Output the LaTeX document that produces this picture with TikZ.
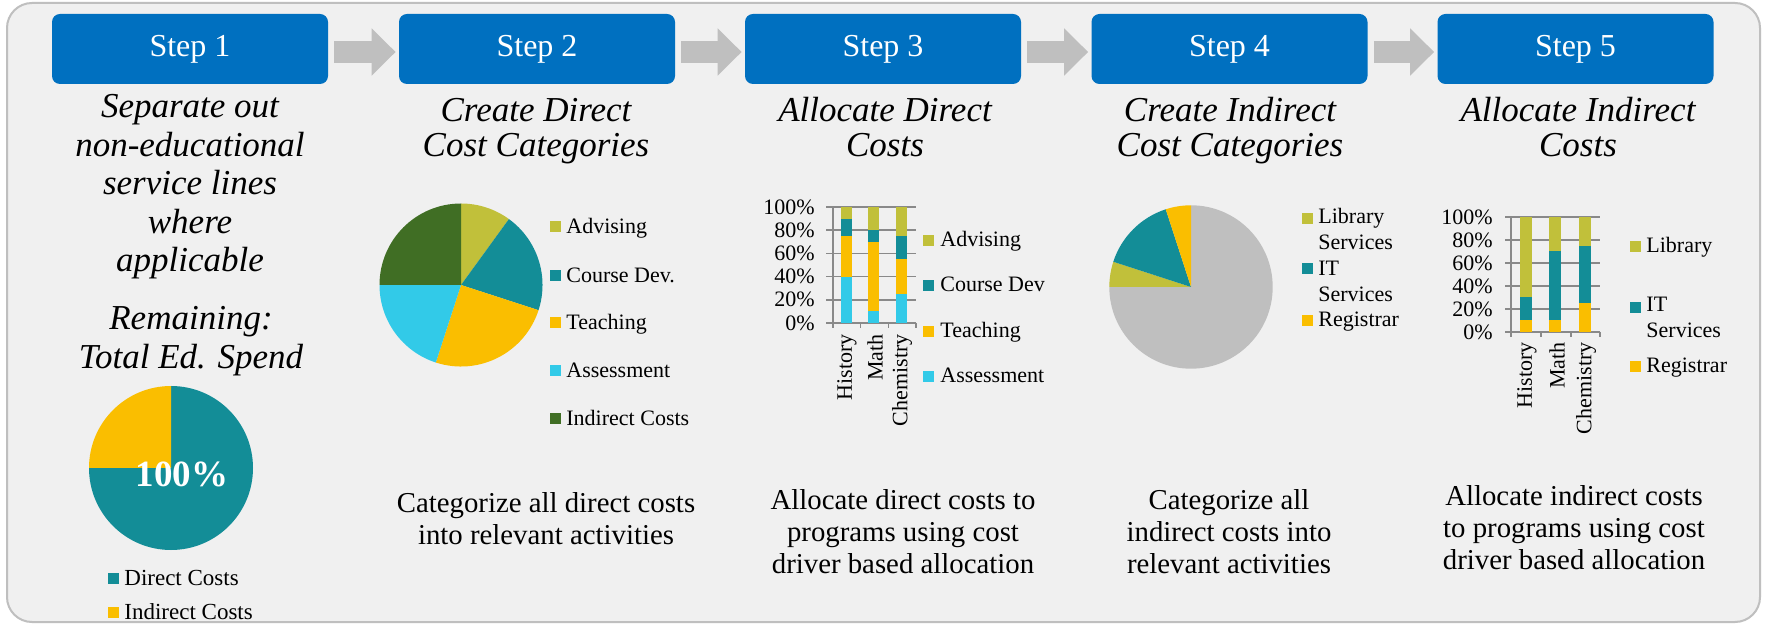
\documentclass[tikz,border=0pt]{standalone}
\usepackage{fontspec}
\setmainfont{Liberation Serif}
\usetikzlibrary{arrows.meta}
\definecolor{stepblue}{RGB}{0,112,192}
\definecolor{arrowgray}{RGB}{191,191,191}
\definecolor{panelfill}{RGB}{240,240,240}
\definecolor{panelline}{RGB}{191,191,191}
\definecolor{advcol}{RGB}{193,192,58}
\definecolor{devcol}{RGB}{19,141,151}
\definecolor{goldcol}{RGB}{250,190,0}
\definecolor{asscol}{RGB}{50,202,232}
\definecolor{indcol}{RGB}{64,110,36}
\definecolor{piegray}{RGB}{191,191,191}
\definecolor{gridgray}{RGB}{137,137,137}
\tikzset{
  stepbox/.style={fill=stepblue, text=white, rounded corners=4pt, minimum width=138pt,
    minimum height=35pt, inner sep=0pt, font=\fontsize{16}{19}\selectfont},
  flow/.style={draw=arrowgray, line width=11pt, -{Triangle[length=12pt,width=23pt]},
    shorten <=3pt, shorten >=1.5pt},
  heading/.style={align=center, inner sep=0pt, font=\fontsize{17.5}{17.5}\selectfont\itshape},
  note/.style={align=center, inner sep=0pt, font=\fontsize{14.4}{16}\selectfont},
  chart/.style={inner sep=0pt, align=left, font=\fontsize{11}{13}\selectfont},
  gridln/.style={draw=gridgray, line width=0.75pt},
}
\begin{document}
\begin{tikzpicture}[x=0.5pt,y=-0.5pt]
  \fill[white] (0,0) rectangle (1765,624);
  \useasboundingbox (0,0) rectangle (1765,624);
  \draw[panelline, fill=panelfill, line width=1pt, rounded corners=12.5pt] (7,3) rectangle (1760,622);

  % steps
  \foreach \i/\x in {1/190, 2/537, 3/883, 4/1229.5, 5/1575.5}
    \node[stepbox] (step\i) at (\x,49) {Step \i};
  \draw[flow] ([yshift=-1.5pt]step1.east) -- ([yshift=-1.5pt]step2.west);
  \draw[flow] ([yshift=-1.5pt]step2.east) -- ([yshift=-1.5pt]step3.west);
  \draw[flow] ([yshift=-1.5pt]step3.east) -- ([yshift=-1.5pt]step4.west);
  \draw[flow] ([yshift=-1.5pt]step4.east) -- ([yshift=-1.5pt]step5.west);

  \node[heading, font=\fontsize{17.5}{19.25}\selectfont\itshape] (h1) at (190,187)
    {Separate out\\non-educational\\service lines\\where\\applicable};
  \node[heading, font=\fontsize{17.5}{19.25}\selectfont\itshape] (r1) at (191,341)
    {Remaining:\\Total Ed. Spend};
  \node[heading] (h2) at (536,131) {Create Direct\\Cost Categories};
  \node[heading] (h3) at (885,127) {Allocate Direct\\Costs};
  \node[heading] (h4) at (1230,131) {Create Indirect\\Cost Categories};
  \node[heading] (h5) at (1578,127) {Allocate Indirect\\Costs};

  \node[note] (n2) at (546,519) {Categorize all direct costs\\into relevant activities};
  \node[note] (n3) at (903,531.5) {Allocate direct costs to\\programs using cost\\driver based allocation};
  \node[note] (n4) at (1229,531.5) {Categorize all\\indirect costs into\\relevant activities};
  \node[note] (n5) at (1574,527.5) {Allocate indirect costs\\to programs using cost\\driver based allocation};

  % step 1 pie
  \foreach \a/\b/\c in {-90/180/devcol, 180/270/goldcol}
    \fill[\c] (171,468) -- ++(\a:82) arc[start angle=\a, end angle=\b, radius=82] -- cycle;
  \node[text=white, inner sep=0pt, font=\fontsize{18.5}{20}\selectfont\bfseries] (p1) at (182,474) {100\%};
  \foreach \y/\c/\t [count=\i] in {578/devcol/Direct Costs, 612/goldcol/Indirect Costs}{
    \fill[\c] (108,\y-5.5) rectangle ++(11,11);
    \node[chart, anchor=base west, font=\fontsize{11.5}{13}\selectfont] (l1-\i) at (124,\y+7) {\t};
  }

  % step 2 pie
  \foreach \a/\b/\c in {-90/-54/advcol, -54/18/devcol, 18/108/goldcol, 108/180/asscol, 180/270/indcol}
    \fill[\c] (461,285) -- ++(\a:81.5) arc[start angle=\a, end angle=\b, radius=81.5] -- cycle;
  \foreach \y/\c/\t [count=\i] in {227/advcol/Advising, 276/devcol/Course Dev., 323/goldcol/Teaching,
      371/asscol/Assessment, 419/indcol/Indirect Costs}{
    \fill[\c] (550,\y-5.5) rectangle ++(11,11);
    \node[chart, anchor=base west] (l2-\i) at (566,\y+6.5) {\t};
  }

  % step 3 bars
  \foreach \p in {0,20,...,100}{
    \draw[gridln] (826,323-1.16*\p) -- (916,323-1.16*\p);
    \node[chart, anchor=east] (y3-\p) at (815,323-1.16*\p) {\p\%};
  }
  \draw[gridln] (833,207) -- (833,328);
  \foreach \x in {860.7,888.3,916} \draw[gridln] (\x,323) -- (\x,328);
  \foreach \bx/\lo/\hi/\c in {846.5/0/40/asscol, 846.5/40/75/goldcol, 846.5/75/90/devcol, 846.5/90/100/advcol,
      873.5/0/10/asscol, 873.5/10/70/goldcol, 873.5/70/80/devcol, 873.5/80/100/advcol,
      901.5/0/25/asscol, 901.5/25/55/goldcol, 901.5/55/75/devcol, 901.5/75/100/advcol}
    \fill[\c] (\bx-5.5,323-1.16*\lo) rectangle (\bx+5.5,323-1.16*\hi);
  \foreach \x/\t in {847/History, 875/Math, 902/Chemistry}
    \node[chart, rotate=90, anchor=east] (x3-\t) at (\x,334) {\t};
  \foreach \y/\c/\t [count=\i] in {241/advcol/Advising, 286/devcol/Course Dev, 332/goldcol/Teaching,
      377/asscol/Assessment}{
    \fill[\c] (923,\y-5.5) rectangle ++(11,11);
    \node[chart, anchor=base west] (l3-\i) at (940,\y+6) {\t};
  }

  % step 4 pie
  \foreach \a/\b/\c in {-90/180/piegray, 180/198/advcol, 198/252/devcol, 252/270/goldcol}
    \fill[\c] (1191,287) -- ++(\a:81.7) arc[start angle=\a, end angle=\b, radius=81.7] -- cycle;
  \fill[advcol] (1302,213.5) rectangle ++(11,11);
  \fill[devcol] (1302,263.5) rectangle ++(11,11);
  \fill[goldcol] (1302,315.5) rectangle ++(11,11);
  \node[chart, anchor=west] (l4-1) at (1318,229) {Library\\Services};
  \node[chart, anchor=west] (l4-2) at (1318,281) {IT\\Services};
  \node[chart, anchor=base west] (l4-3) at (1318,327) {Registrar};

  % step 5 bars
  \foreach \p in {0,20,...,100}{
    \draw[gridln] (1505,332-1.15*\p) -- (1600,332-1.15*\p);
    \node[chart, anchor=east] (y5-\p) at (1493,332-1.15*\p) {\p\%};
  }
  \draw[gridln] (1511,217) -- (1511,337);
  \foreach \x in {1541,1571,1600} \draw[gridln] (\x,332) -- (\x,337);
  \foreach \bx/\lo/\hi/\c in {1526/0/10/goldcol, 1526/10/30/devcol, 1526/30/100/advcol,
      1555/0/10/goldcol, 1555/10/70/devcol, 1555/70/100/advcol,
      1585/0/25/goldcol, 1585/25/75/devcol, 1585/75/100/advcol}
    \fill[\c] (\bx-6,332-1.15*\lo) rectangle (\bx+6,332-1.15*\hi);
  \foreach \x/\t in {1527/History, 1557/Math, 1586/Chemistry}
    \node[chart, rotate=90, anchor=east] (x5-\t) at (\x,342) {\t};
  \fill[advcol] (1630,241.5) rectangle ++(11,11);
  \fill[devcol] (1630,302.5) rectangle ++(11,11);
  \fill[goldcol] (1630,361.5) rectangle ++(11,11);
  \node[chart, anchor=base west] (l5-1) at (1646,253) {Library};
  \node[chart, anchor=west] (l5-2) at (1646,317) {IT\\Services};
  \node[chart, anchor=base west] (l5-3) at (1646,372.7) {Registrar};
\end{tikzpicture}
\end{document}
